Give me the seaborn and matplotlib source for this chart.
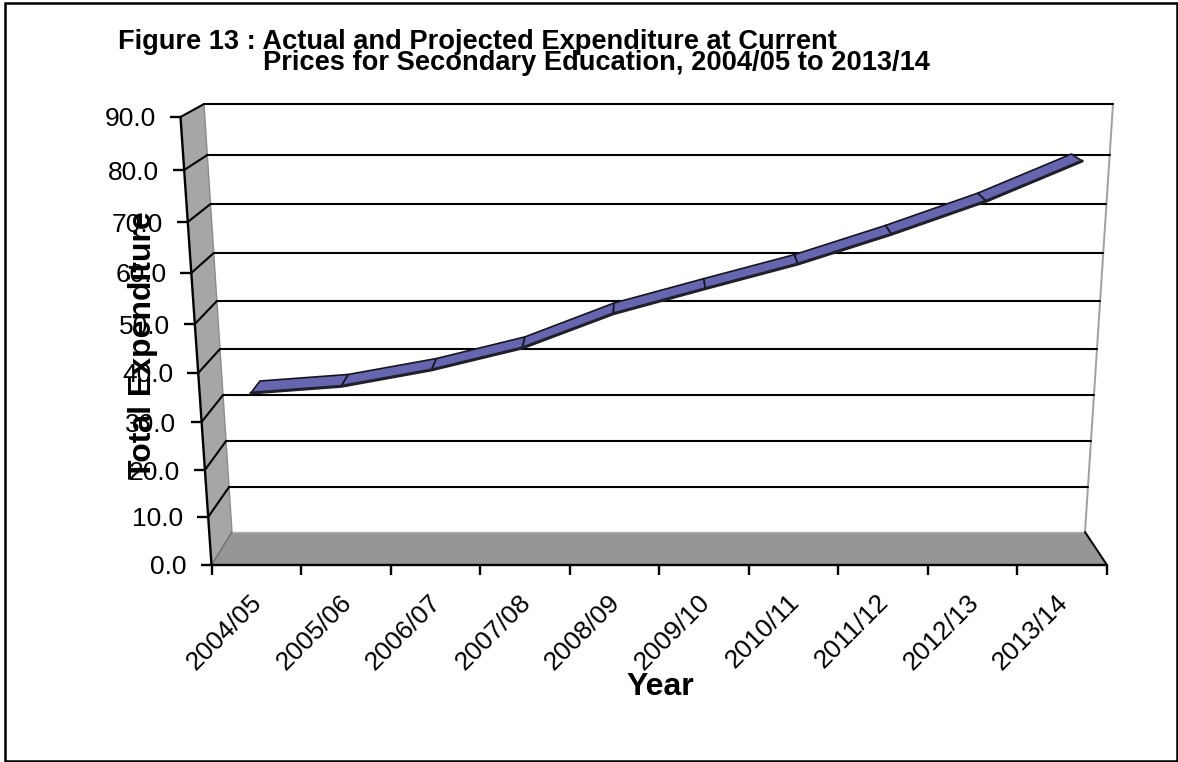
import numpy as np
import matplotlib
matplotlib.use("Agg")
import matplotlib.pyplot as plt
from matplotlib.transforms import Transform, IdentityTransform, Affine2D
from matplotlib.patches import Rectangle
import seaborn as sns

years = ["2004/05", "2005/06", "2006/07", "2007/08", "2008/09",
         "2009/10", "2010/11", "2011/12", "2012/13", "2013/14"]
expenditure = [34.6, 36.0, 39.4, 43.9, 50.9, 55.9, 60.8, 66.7, 73.2, 81.0]
y_ticks = [0, 10, 20, 30, 40, 50, 60, 70, 80, 90]

W, H = 1178, 762

# pixel rows of the tick values on the front edge and on the back wall
front_rows = [565, 517, 470, 422, 373, 324, 273, 222, 170, 117]
back_rows = [532, 487, 441, 395, 349, 301, 253, 204, 155, 104]
RIBBON_NEAR, RIBBON_FAR = 0.25, 0.72


def corners(rows, bottom_left, top_left, bottom_right, top_right):
    t = (rows[0] - np.asarray(rows, float)) / (rows[0] - rows[-1])
    return bottom_left + (top_left - bottom_left) * t, bottom_right + (top_right - bottom_right) * t


front_left, front_right = corners(front_rows, 211.5, 180.5, 1107, 1139)
back_left, back_right = corners(back_rows, 232, 204, 1085, 1113)


def project(x, v, depth):
    # category position + value + depth -> picture pixels (from the top left)
    x, v = np.asarray(x, float), np.asarray(v, float)
    row = (1 - depth) * np.interp(v, y_ticks, front_rows) + depth * np.interp(v, y_ticks, back_rows)
    left = (1 - depth) * np.interp(v, y_ticks, front_left) + depth * np.interp(v, y_ticks, back_left)
    right = (1 - depth) * np.interp(v, y_ticks, front_right) + depth * np.interp(v, y_ticks, back_right)
    return left + (right - left) * x / 10, row


class RibbonEdge(Transform):
    input_dims = output_dims = 2
    is_affine = False
    has_inverse = False

    def __init__(self, plane):
        super().__init__()
        self.plane = plane

    def transform_non_affine(self, values):
        values = np.asarray(values, float)
        px, row = project(values[:, 0], values[:, 1], self.plane)
        return np.column_stack([px, H - row])


def poly(ax, pts, **kw):
    pts = np.asarray(pts, float)
    ax.fill(pts[:, 0], H - pts[:, 1], transform=IdentityTransform(), clip_on=False, **kw)


def seg(ax, a, b, **kw):
    ax.plot([a[0], b[0]], [H - a[1], H - b[1]], transform=IdentityTransform(), clip_on=False,
            solid_capstyle="round", **kw)


sns.set_theme(style="white")
plt.rcParams["font.family"] = ["Liberation Sans", "DejaVu Sans"]

fig = plt.figure(figsize=(W / 100, H / 100), dpi=100)
fig.patch.set_facecolor("white")
ax = fig.add_axes([211.5 / W, 1 - 565 / H, (1107 - 211.5) / W, (565 - 117) / H])
ax.patch.set_visible(False)
for s in ax.spines.values():
    s.set_visible(False)

fig.add_artist(Rectangle((5 / W, 1 / H), (W - 6) / W, (H - 4) / H, transform=fig.transFigure,
                         fill=False, ec="black", lw=1.8))

# side wall and floor
f0, b0 = project(0, 0, 0), project(0, 0, 1)
f9, b9 = project(0, 90, 0), project(0, 90, 1)
rf0, rb0 = project(10, 0, 0), project(10, 0, 1)
rb9 = project(10, 90, 1)
poly(ax, [f0, b0, b9, f9], color="#a6a6a6", lw=0, zorder=1)
poly(ax, [f0, rf0, rb0, b0], color="#969696", lw=0, zorder=1)
seg(ax, b0, b9, color="#8c8c8c", lw=1, zorder=1.5)
seg(ax, rb0, rb9, color="#a0a0a0", lw=1.4, zorder=1.5)
seg(ax, b0, rb0, color="#b0b0b0", lw=1, zorder=1.5)
seg(ax, f0, b0, color="#6e6e6e", lw=1, zorder=1.5)

# grid on the back wall and side wall
for v in y_ticks[1:]:
    seg(ax, project(0, v, 1), project(10, v, 1), color="black", lw=1.5, zorder=2)
    seg(ax, project(0, v, 0), project(0, v, 1), color="black", lw=1.5, zorder=2)

seg(ax, f0, f9, color="black", lw=1.7, zorder=3)
seg(ax, f0, rf0, color="black", lw=1.7, zorder=3)
seg(ax, rf0, rb0, color="black", lw=1.4, zorder=3)

# the ribbon of the 3D line
pos = np.arange(len(years)) + 0.5
for i in range(len(years) - 1):
    a = expenditure[i], expenditure[i + 1]
    near = project(pos[i:i + 2], a, RIBBON_NEAR)
    far = project(pos[i:i + 2], a, RIBBON_FAR)
    pts = list(zip(*near)) + list(zip(*far))[::-1]
    poly(ax, pts, fc="#6666b0", ec="#15151f", lw=1.2, zorder=4, joinstyle="round")

sns.lineplot(x=pos, y=expenditure, ax=ax, color="#20202c", lw=2.2, errorbar=None,
             legend=False, transform=RibbonEdge(RIBBON_NEAR), clip_on=False, zorder=5)

ax.set_xlim(0, 10)
ax.set_yscale("function", functions=(
    lambda v: -np.interp(v, y_ticks, front_rows),
    lambda r: np.interp(r, -np.array(front_rows, float), y_ticks)))
ax.set_ylim(0, 90)

ax.set_yticks(y_ticks, [f"{v:.1f}" for v in y_ticks])
ax.set_xticks(np.arange(11), [""] * 11)
ax.set_xticks(pos, years, minor=True)
ax.tick_params(axis="y", left=True, length=8, width=1.7, pad=10, labelsize=19, color="black", labelcolor="black")
ax.tick_params(axis="x", which="major", bottom=True, length=7, width=1.7, color="black")
ax.tick_params(axis="x", which="minor", bottom=False, length=0, pad=24, labelsize=19, labelcolor="black")
plt.setp(ax.get_xticklabels(minor=True), rotation=45, ha="right", va="center", rotation_mode="anchor")

# slide the y ticks along the slanted front edge
for tick, v in zip(ax.yaxis.get_major_ticks(), y_ticks):
    shift = Affine2D().translate(np.interp(v, y_ticks, front_left) - front_left[0], 0)
    tick.tick1line.set_transform(tick.tick1line.get_transform() + shift)
    tick.label1.set_transform(tick.label1.get_transform() + shift)
for tick in ax.xaxis.get_minor_ticks():
    tick.label1.set_transform(tick.label1.get_transform() + Affine2D().translate(2, 0))

px = Affine2D().scale(1, -1).translate(0, H)
ax.set_ylabel("Total Expenditure", fontsize=23, fontweight="bold", color="black", va="center")
ax.yaxis.set_label_coords(143, 345, transform=px)
ax.set_xlabel("Year", fontsize=23, fontweight="bold", color="black", va="center")
ax.xaxis.set_label_coords(660, 687, transform=px)

fig.text(118, H - 49, "Figure 13 : Actual and Projected Expenditure at Current", transform=IdentityTransform(),
         fontsize=19.6, fontweight="bold", color="black", ha="left", va="baseline")
fig.text(263, H - 70.5, "Prices for Secondary Education, 2004/05 to 2013/14", transform=IdentityTransform(),
         fontsize=19.6, fontweight="bold", color="black", ha="left", va="baseline")

fig.savefig("out.png", dpi=100)
